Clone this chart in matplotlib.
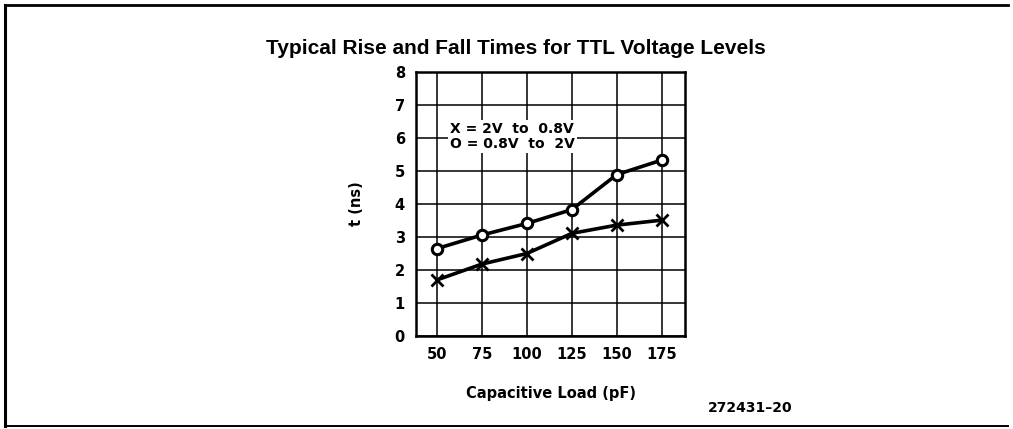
import matplotlib
matplotlib.use('Agg')
from matplotlib import pyplot as plt
from matplotlib.lines import Line2D

load_pf = [50, 75, 100, 125, 150, 175]
rise_ns = [2.65, 3.06, 3.41, 3.83, 4.89, 5.33]   # O = 0.8V to 2V
fall_ns = [1.70, 2.18, 2.50, 3.11, 3.36, 3.51]   # X = 2V to 0.8V
y_ticks = [0, 1, 2, 3, 4, 5, 6, 7, 8]

W, H = 1013, 429
fig = plt.figure(figsize=(W / 100, H / 100), dpi=100)
fig.patch.set_facecolor('white')

# axes box in pixels: x 416..685, y 72..336
ax = fig.add_axes([416 / W, 1 - 336 / H, (685 - 416) / W, (336 - 72) / H])

ax.plot(load_pf, rise_ns, color='black', lw=2.6, marker='o', ms=7.5,
        mfc='white', mec='black', mew=2.2, zorder=3)
ax.plot(load_pf, fall_ns, color='black', lw=2.6, marker='x', ms=8,
        mew=2.0, zorder=3)

ax.set_xlim(38.3, 188)
ax.set_ylim(0, 8)
ax.set_xticks(load_pf)
ax.set_yticks(y_ticks)
ax.grid(True, color='black', lw=1.1)
ax.tick_params(length=0, pad=8, labelsize=10.5)
for lbl in ax.get_xticklabels() + ax.get_yticklabels():
    lbl.set_fontweight('bold')
for s in ax.spines.values():
    s.set_linewidth(1.8)

ax.text(0.125, 0.81, 'X = 2V  to  0.8V\nO = 0.8V  to  2V', transform=ax.transAxes,
        fontsize=10, fontweight='bold', va='top', ha='left', linespacing=1.1,
        bbox=dict(facecolor='white', edgecolor='none', pad=1.5))

ax.set_ylabel('t (ns)', fontsize=10.5, fontweight='bold', labelpad=22)
ax.set_xlabel('Capacitive Load (pF)', fontsize=10.5, fontweight='bold', labelpad=17)

fig.text(516 / W, 1 - 48 / H, 'Typical Rise and Fall Times for TTL Voltage Levels',
         ha='center', va='center', fontsize=15, fontweight='bold',
         family='Liberation Sans')
fig.text(750 / W, 1 - 408 / H, '272431\u201320', ha='center', va='center',
         fontsize=10, fontweight='bold')

# outer frame
fig.add_artist(Line2D([5 / W, 5 / W], [1 - 5 / H, 1 - 426 / H], color='black', lw=2.2))
fig.add_artist(Line2D([5 / W, 1008 / W], [1 - 5 / H, 1 - 5 / H], color='black', lw=2.0))
fig.add_artist(Line2D([5 / W, 1008 / W], [1 - 426 / H, 1 - 426 / H], color='black', lw=1.4))

fig.savefig('out.png', dpi=100)
